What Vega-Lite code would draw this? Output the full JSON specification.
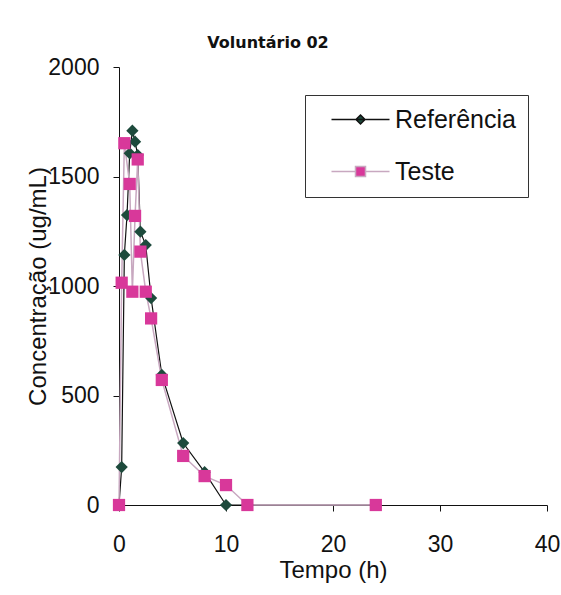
{
  "$schema": "https://vega.github.io/schema/vega-lite/v6.json",
  "width": 428,
  "height": 438,
  "autosize": {"type": "none"},
  "padding": {"left": 119, "top": 67, "right": 14, "bottom": 90},
  "background": "white",
  "title": {
    "text": "Voluntário 02",
    "font": "DejaVu Sans",
    "fontSize": 16,
    "fontWeight": "bold",
    "color": "#111",
    "anchor": "middle",
    "frame": "group",
    "dx": -65,
    "offset": 5
  },
  "data": {
    "values": [
      {"t": 0, "c": 0, "s": "Referência"},
      {"t": 0.25, "c": 173, "s": "Referência"},
      {"t": 0.5, "c": 1142, "s": "Referência"},
      {"t": 0.75, "c": 1324, "s": "Referência"},
      {"t": 1, "c": 1606, "s": "Referência"},
      {"t": 1.25, "c": 1709, "s": "Referência"},
      {"t": 1.5, "c": 1659, "s": "Referência"},
      {"t": 1.75, "c": 1598, "s": "Referência"},
      {"t": 2, "c": 1248, "s": "Referência"},
      {"t": 2.5, "c": 1187, "s": "Referência"},
      {"t": 3, "c": 945, "s": "Referência"},
      {"t": 4, "c": 594, "s": "Referência"},
      {"t": 6, "c": 283, "s": "Referência"},
      {"t": 8, "c": 150, "s": "Referência"},
      {"t": 10, "c": 0, "s": "Referência"},
      {"t": 12, "c": 0, "s": "Referência"},
      {"t": 24, "c": 0, "s": "Referência"},
      {"t": 0, "c": 0, "s": "Teste"},
      {"t": 0.25, "c": 1015, "s": "Teste"},
      {"t": 0.5, "c": 1652, "s": "Teste"},
      {"t": 1, "c": 1466, "s": "Teste"},
      {"t": 1.25, "c": 974, "s": "Teste"},
      {"t": 1.5, "c": 1320, "s": "Teste"},
      {"t": 1.75, "c": 1578, "s": "Teste"},
      {"t": 2, "c": 1157, "s": "Teste"},
      {"t": 2.5, "c": 974, "s": "Teste"},
      {"t": 3, "c": 852, "s": "Teste"},
      {"t": 4, "c": 571, "s": "Teste"},
      {"t": 6, "c": 224, "s": "Teste"},
      {"t": 8, "c": 132, "s": "Teste"},
      {"t": 10, "c": 91, "s": "Teste"},
      {"t": 12, "c": 0, "s": "Teste"},
      {"t": 24, "c": 0, "s": "Teste"}
    ]
  },
  "encoding": {
    "x": {
      "field": "t",
      "type": "quantitative",
      "scale": {"domain": [0, 40], "nice": false},
      "axis": {
        "title": "Tempo (h)",
        "values": [0, 10, 20, 30, 40],
        "format": "d",
        "grid": false,
        "labelFlush": false,
        "tickSize": 6,
        "labelPadding": 22,
        "titlePadding": 2
      }
    },
    "y": {
      "field": "c",
      "type": "quantitative",
      "scale": {"domain": [0, 2000], "nice": false},
      "axis": {
        "title": "Concentração (ug/mL)",
        "values": [0, 500, 1000, 1500, 2000],
        "format": "d",
        "grid": false,
        "labelFlush": false,
        "tickSize": 6,
        "labelPadding": 14,
        "titlePadding": -3
      }
    }
  },
  "layer": [
    {
      "transform": [{"filter": "datum.s === 'Referência'"}],
      "mark": {"type": "line", "strokeWidth": 1.2, "color": "#111111"},
      "encoding": {"order": {"field": "t", "type": "quantitative"}}
    },
    {
      "transform": [{"filter": "datum.s === 'Teste'"}],
      "mark": {"type": "line", "strokeWidth": 1.5, "color": "#c8a8c0"},
      "encoding": {"order": {"field": "t", "type": "quantitative"}}
    },
    {
      "transform": [{"filter": "datum.s === 'Referência'"}],
      "mark": {"type": "point", "shape": "diamond", "filled": true, "opacity": 1, "color": "#1d4a3c", "size": 150}
    },
    {
      "transform": [{"filter": "datum.s === 'Teste'"}],
      "mark": {"type": "point", "shape": "square", "filled": true, "opacity": 1, "color": "#d8389a", "size": 150}
    },
    {
      "transform": [{"filter": "false"}],
      "mark": {"type": "point", "filled": true, "opacity": 1, "strokeWidth": 1.2},
      "encoding": {
        "shape": {
          "field": "s",
          "type": "nominal",
          "scale": {
            "domain": ["Referência", "Teste"],
            "range": [
              "M-2.9,0H2.9M0,-0.45L0.45,0L0,0.45L-0.45,0Z",
              "M-2.9,0H-0.5M0.5,0H2.9M-0.5,-0.5H0.5V0.5H-0.5Z"
            ]
          },
          "legend": {
            "title": null,
            "orient": "none",
            "legendX": 186,
            "legendY": 28,
            "direction": "vertical",
            "strokeColor": "#333",
            "fillColor": "white",
            "padding": 12,
            "symbolSize": 400,
            "symbolOffset": 31,
            "rowPadding": 26,
            "labelOffset": 22,
            "labelFont": "Liberation Sans",
            "labelFontSize": 25,
            "labelColor": "#111"
          }
        },
        "fill": {
          "field": "s",
          "type": "nominal",
          "scale": {"domain": ["Referência", "Teste"], "range": ["#1d4a3c", "#d8389a"]}
        },
        "stroke": {
          "field": "s",
          "type": "nominal",
          "scale": {"domain": ["Referência", "Teste"], "range": ["#111111", "#c8a8c0"]}
        }
      }
    }
  ],
  "config": {
    "view": {"stroke": null},
    "axis": {
      "domainColor": "#111",
      "tickColor": "#111",
      "labelFont": "Liberation Sans",
      "labelFontSize": 23,
      "labelColor": "#111",
      "titleFont": "Liberation Sans",
      "titleFontSize": 24,
      "titleFontWeight": "normal",
      "titleColor": "#111"
    }
  }
}
